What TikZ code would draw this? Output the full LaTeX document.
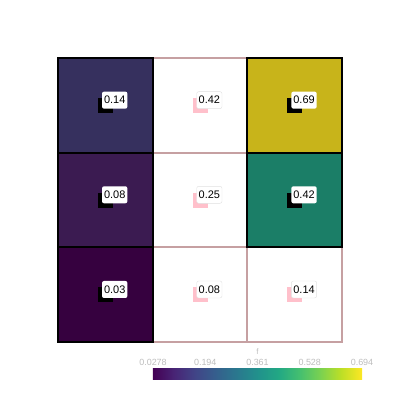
\documentclass[tikz,border=0pt]{standalone}
\usepackage{fontspec}
\setmainfont{Liberation Sans}
\usepackage{tikz}
\definecolor{fa}{HTML}{36305E}
\definecolor{fb}{HTML}{3B1B51}
\definecolor{fc}{HTML}{36013F}
\definecolor{fd}{HTML}{C8B41A}
\definecolor{fe}{HTML}{1B7E67}
\definecolor{edgepink}{HTML}{C6A0A2}
\definecolor{blotpink}{HTML}{FFC0CB}
\definecolor{tickgray}{HTML}{BDBDBD}
\definecolor{vir0}{HTML}{440154}
\definecolor{vir1}{HTML}{482475}
\definecolor{vir2}{HTML}{414487}
\definecolor{vir3}{HTML}{355F8D}
\definecolor{vir4}{HTML}{2A788E}
\definecolor{vir5}{HTML}{21918C}
\definecolor{vir6}{HTML}{22A884}
\definecolor{vir7}{HTML}{44BF70}
\definecolor{vir8}{HTML}{7AD151}
\definecolor{vir9}{HTML}{BDDF26}
\definecolor{vir10}{HTML}{FDE725}
\pgfdeclarehorizontalshading{viridis}{100bp}{color(0bp)=(vir0); color(25bp)=(vir0);
  color(30bp)=(vir1); color(35bp)=(vir2); color(40bp)=(vir3); color(45bp)=(vir4);
  color(50bp)=(vir5); color(55bp)=(vir6); color(60bp)=(vir7); color(65bp)=(vir8);
  color(70bp)=(vir9); color(75bp)=(vir10); color(100bp)=(vir10)}
\tikzstyle{cell}=[rectangle, minimum size=94.67bp, inner sep=0pt, outer sep=0pt,
                    line width=1.8bp]
\tikzstyle{hot}=[cell, draw=black]
\tikzstyle{cold}=[cell, draw=edgepink]
\tikzstyle{blot}=[rectangle, minimum size=15bp, inner sep=0pt, fill=black]
\tikzstyle{gblot}=[blot, fill=blotpink]
\tikzstyle{tag}=[rectangle, rounded corners=2bp, fill=white, inner xsep=2bp,
                   inner ysep=0pt, minimum height=17bp, font=\fontsize{11}{11}\selectfont,
                   anchor=south west]
\tikzstyle{gtag}=[tag, draw=black!12, line width=.4bp]
\tikzstyle{tick}=[text=tickgray, font=\fontsize{9}{9}\selectfont]

\begin{document}
\begin{tikzpicture}[x=1bp, y=-1bp]
      \useasboundingbox (0,0) rectangle (400,400);

      % empty cells first, filled ones on top
      \node[cold] (b1) at (200,105.33) {};
      \node[cold] (b2) at (200,200) {};
      \node[cold] (b3) at (200,294.67) {};
      \node[cold] (c3) at (294.67,294.67) {};

      \node[hot, fill=fa] (a1) at (105.33,105.33) {};
      \node[hot, fill=fb] (a2) at (105.33,200) {};
      \node[hot, fill=fc] (a3) at (105.33,294.67) {};
      \node[hot, fill=fd] (c1) at (294.67,105.33) {};
      \node[hot, fill=fe] (c2) at (294.67,200) {};

      \node[blot] (sa1) at (a1.center) {};
      \node[blot] (sa2) at (a2.center) {};
      \node[blot] (sa3) at (a3.center) {};
      \node[gblot] (sb1) at (b1.center) {};
      \node[gblot] (sb2) at (b2.center) {};
      \node[gblot] (sb3) at (b3.center) {};
      \node[blot] (sc1) at (c1.center) {};
      \node[blot] (sc2) at (c2.center) {};
      \node[gblot] (sc3) at (c3.center) {};

      \node[tag] (ta1) at ([shift={(-3.5,3.5)}]sa1.center) {0.14};
      \node[tag] (ta2) at ([shift={(-3.5,3.5)}]sa2.center) {0.08};
      \node[tag] (ta3) at ([shift={(-3.5,3.5)}]sa3.center) {0.03};
      \node[gtag] (tb1) at ([shift={(-3.5,3.5)}]sb1.center) {0.42};
      \node[gtag] (tb2) at ([shift={(-3.5,3.5)}]sb2.center) {0.25};
      \node[gtag] (tb3) at ([shift={(-3.5,3.5)}]sb3.center) {0.08};
      \node[tag] (tc1) at ([shift={(-3.5,3.5)}]sc1.center) {0.69};
      \node[tag] (tc2) at ([shift={(-3.5,3.5)}]sc2.center) {0.42};
      \node[gtag] (tc3) at ([shift={(-3.5,3.5)}]sc3.center) {0.14};

      % colour bar
      \node[rectangle, minimum width=209bp, minimum height=11bp, inner sep=0pt,
            shading=viridis] (bar) at (257.5,373.5) {};
      \node[tick, font=\fontsize{8}{8}\selectfont] (f) at (257.5,351.5) {f};
      \node[tick] (k1) at (153,362) {0.0278};
      \node[tick] (k2) at (205.25,362) {0.194};
      \node[tick] (k3) at (257.5,362) {0.361};
      \node[tick] (k4) at (309.75,362) {0.528};
      \node[tick] (k5) at (362,362) {0.694};
    \end{tikzpicture}
\end{document}
